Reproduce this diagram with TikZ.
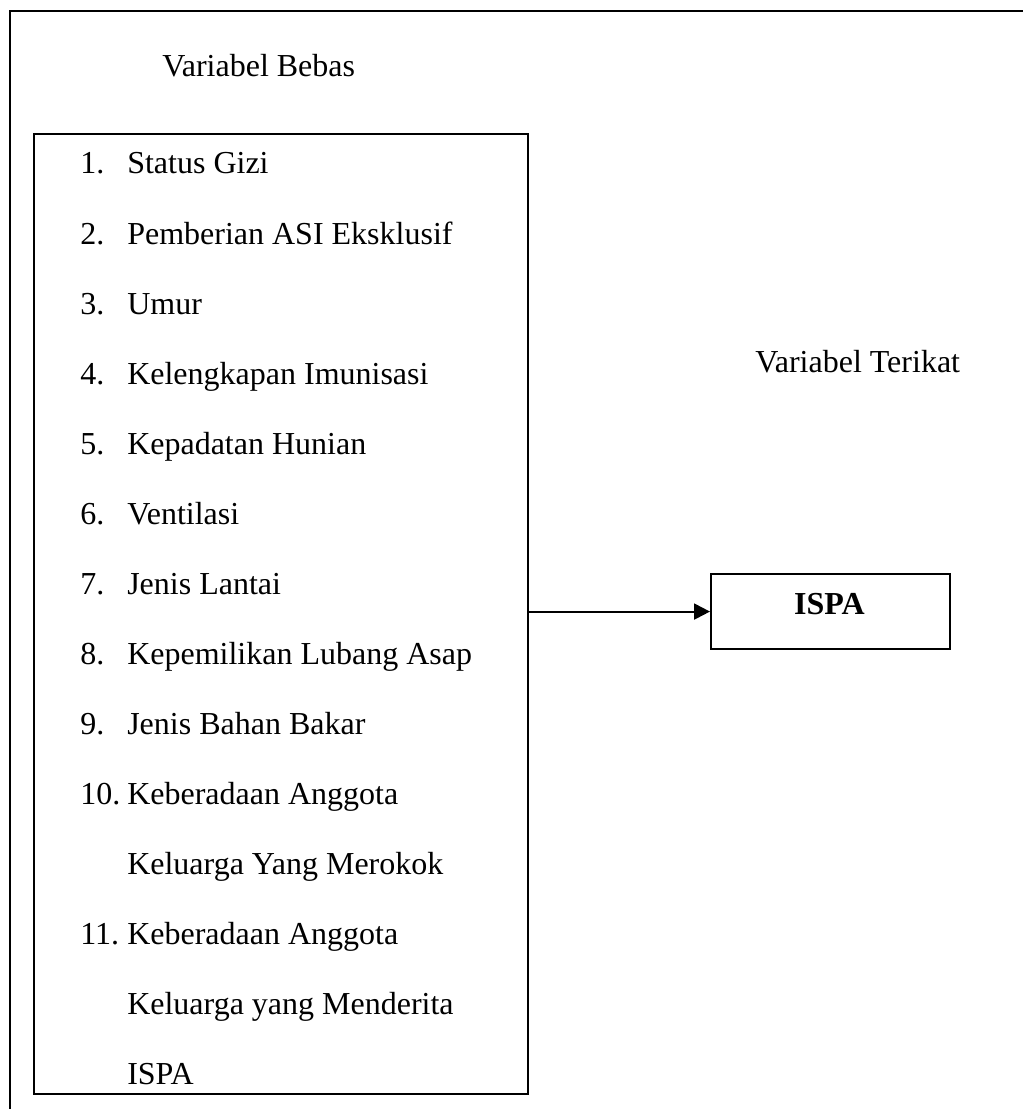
\documentclass[tikz,border=0pt]{standalone}
\usepackage{fontspec}
\setmainfont{Liberation Serif}
\usetikzlibrary{arrows.meta}
\begin{document}
\begin{tikzpicture}[x=0.75pt,y=-0.75pt,
  txt/.style={inner sep=0pt,anchor=base west,font=\fontsize{24}{28}\selectfont},
  frame/.style={draw=black,line width=1.6pt},
  conn/.style={draw=black,line width=1.6pt,-{Triangle[length=12pt,width=12pt]}}]
\useasboundingbox (0,0) rectangle (1023,1109);
% outer frame (open at right and bottom)
\draw[frame] (10,1112) -- (10,11) -- (1026,11);
% titles
\node[txt] (tbebas) at (162,77) {Variabel Bebas};
\node[txt] (tterikat) at (755,372) {Variabel Terikat};
% inner box
\node[frame,inner sep=0pt,minimum width=494*0.75pt,minimum height=960*0.75pt,anchor=north west] (bebas) at (33,133) {};
% list
\foreach \n/\t [count=\k from 0] in {1./Status Gizi,2./Pemberian ASI Eksklusif,3./Umur,4./Kelengkapan Imunisasi,5./Kepadatan Hunian,6./Ventilasi,7./Jenis Lantai,8./Kepemilikan Lubang Asap,9./Jenis Bahan Bakar,10./Keberadaan Anggota,/Keluarga Yang Merokok,11./Keberadaan Anggota,/Keluarga yang Menderita,/ISPA}{
  \node[txt] (num\k) at (80,174+70*\k) {\n};
  \node[txt] (item\k) at (127,174+70*\k) {\t};
}
% dependent box
\node[frame,inner sep=0pt,minimum width=239*0.75pt,minimum height=75*0.75pt,anchor=north west] (ispa) at (710,573) {};
\node[txt,anchor=base,font=\fontsize{24}{28}\selectfont\bfseries] (ispatxt) at (829.5,614) {ISPA};
% connector
\coordinate (start) at (bebas.east |- ispa.west);
\draw[conn] (start) -- (ispa.west);
\end{tikzpicture}
\end{document}
